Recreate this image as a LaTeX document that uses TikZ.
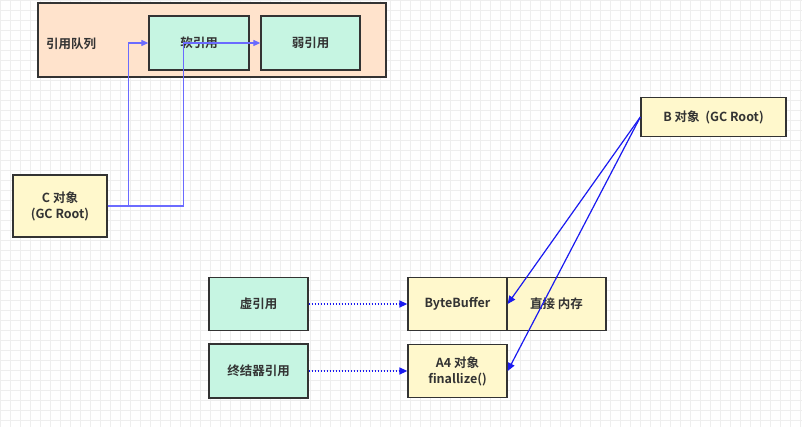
\documentclass[tikz,border=0pt]{standalone}
\usepackage{fontspec}
\setmainfont{Noto Sans CJK SC}[BoldFont={* Bold}]
\usetikzlibrary{arrows.meta}
\definecolor{peach}{HTML}{FFE3CC}
\definecolor{mint}{HTML}{C6F5E2}
\definecolor{cream}{HTML}{FFF8CC}
\definecolor{edge}{HTML}{333333}
\definecolor{lightblue}{HTML}{6B6BFF}
\definecolor{deepblue}{HTML}{1A1AF0}
\definecolor{gridc}{HTML}{EEEEEE}
\tikzset{
  lbl/.style={font=\bfseries\fontsize{12.5}{16}\selectfont, text=black!80},
  box/.style={draw=edge, line width=1.3pt, inner sep=0pt, lbl, align=center},
  mintbox/.style={box, fill=mint},
  creambox/.style={box, fill=cream},
  qarrow/.style={draw=lightblue, line width=1.1pt, -{Triangle[length=7pt,width=6pt]}},
  barrow/.style={draw=deepblue, line width=1.2pt, -{Triangle[length=8pt,width=7pt]}},
  darrow/.style={draw=deepblue, line width=1.6pt, dash pattern=on 1.5pt off 1.5pt, -{Triangle[length=8pt,width=7pt]}},
}
\begin{document}
\begin{tikzpicture}[x=1pt,y=-1pt]
\fill[white] (0,0) rectangle (802,427);
\useasboundingbox (0,0) rectangle (802,427);
\draw[gridc, line width=0.5pt] (0,0) grid[step=10pt] (802,427);
% queue
\node[box, fill=peach, minimum width=348pt, minimum height=74pt] (queue) at (212,40) {};
\node[lbl] (qlabel) at (71,44) {引用队列};
\node[mintbox, minimum width=100pt, minimum height=54pt] (soft) at (199,43) {软引用};
\node[mintbox, minimum width=99pt, minimum height=54pt] (weak) at (310.5,43) {弱引用};
% C object
\node[creambox, minimum width=94pt, minimum height=62pt] (cobj) at (60,206) {C 对象\\(GC Root)};
% B object
\node[creambox, minimum width=145pt, minimum height=39pt] (bobj) at (713.5,117) {B 对象\ \ (GC Root)};
% phantom / final
\node[mintbox, minimum width=99pt, minimum height=53pt] (phantom) at (258.5,304) {虚引用};
\node[mintbox, minimum width=99pt, minimum height=54pt] (final) at (258.5,371) {终结器引用};
\node[creambox, minimum width=99pt, minimum height=53pt] (bb) at (457.5,304) {ByteBuffer};
\node[creambox, minimum width=99pt, minimum height=53pt] (dm) at (556.5,304) {直接 内存};
\node[creambox, minimum width=99pt, minimum height=53pt] (a4) at (457.5,371) {A4 对象\\finallize()};
% connectors
\draw[qarrow] (cobj.east) -- ++(21,0) |- (soft.west);
\draw[qarrow] (cobj.east) -- ++(76,0) |- (weak.west);
\draw[barrow] (bobj.west) -- (bb.east);
\draw[barrow] (bobj.west) -- (a4.east);
\draw[darrow] (phantom.east) -- (bb.west);
\draw[darrow] (final.east) -- (a4.west);
\end{tikzpicture}
\end{document}
